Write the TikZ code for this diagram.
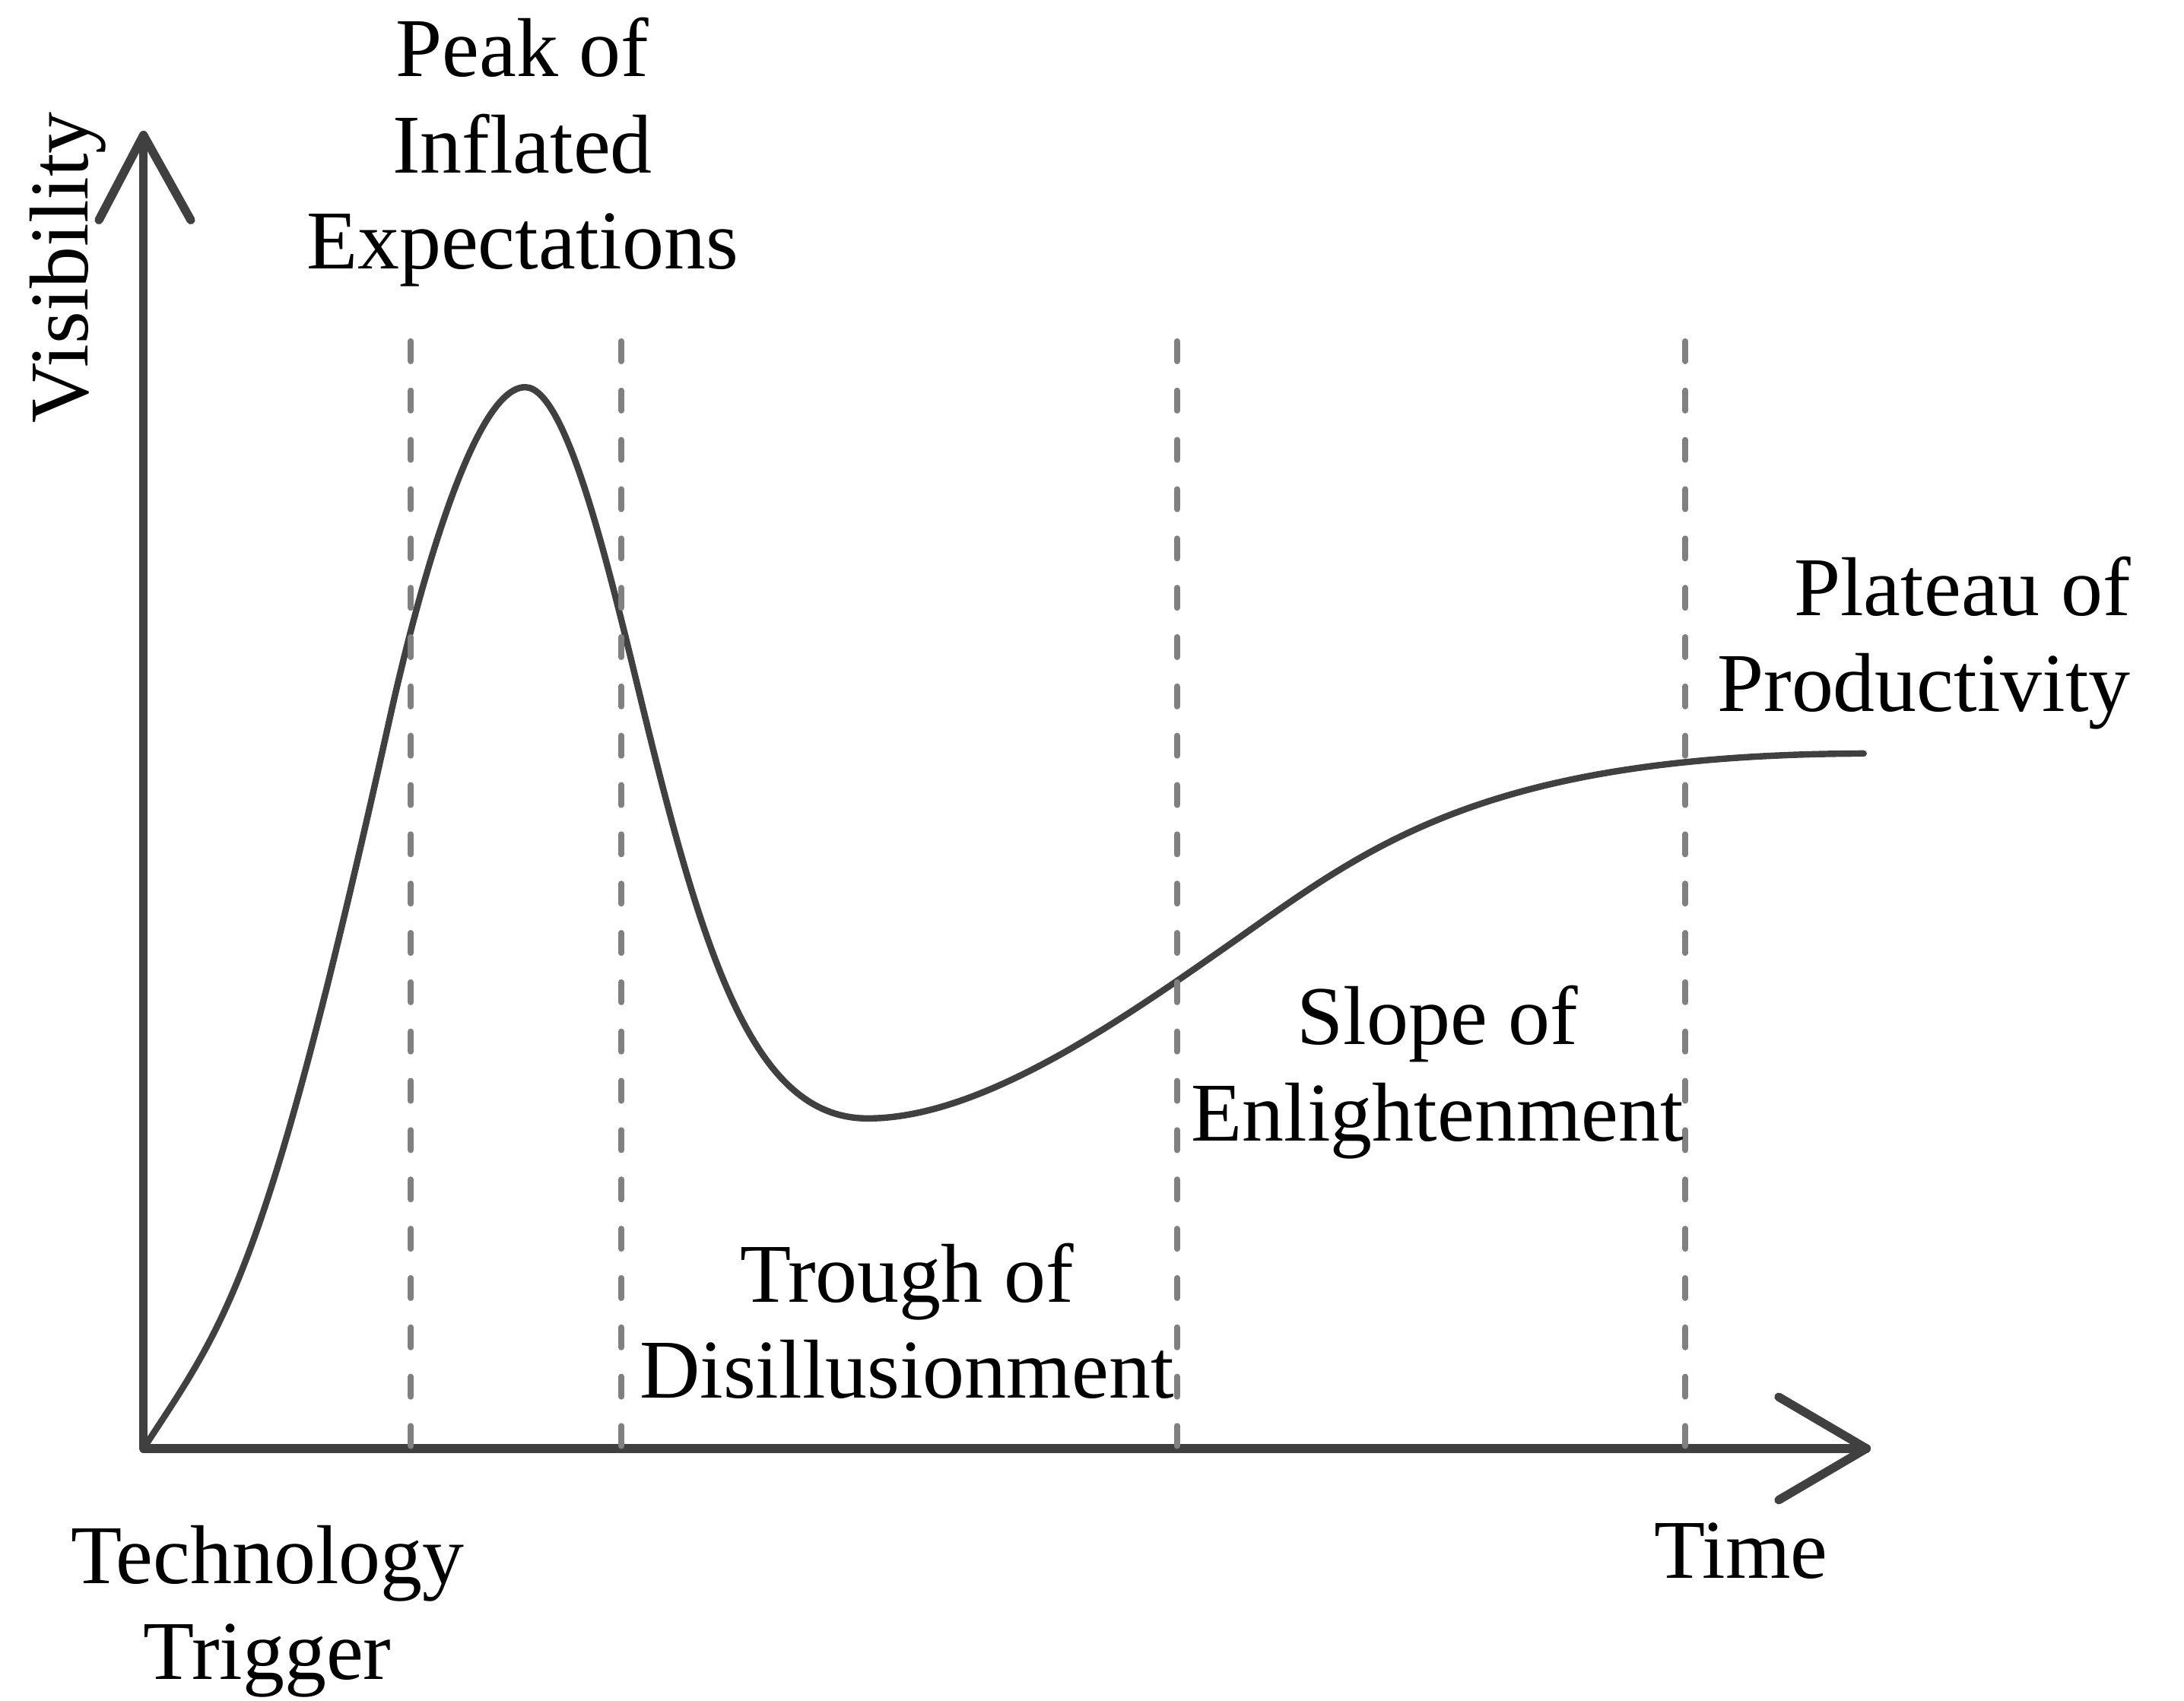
\documentclass[tikz,border=0pt]{standalone}
\usepackage{fontspec}
\setmainfont{Liberation Serif}
\definecolor{axisgray}{HTML}{404040}
\definecolor{guidegray}{HTML}{808080}
\begin{document}
\begin{tikzpicture}[x=0.5pt,y=-0.5pt,
  axis/.style={line width=3.1pt, draw=axisgray, line cap=round, line join=round},
  guide/.style={line width=2.1pt, draw=guidegray, line cap=round, dash pattern=on 7.2pt off 10.5pt},
  hype/.style={line width=2.3pt, draw=axisgray, line cap=round, line join=round},
  lbl/.style={font=\fontsize{30}{34.5}\selectfont, inner sep=0pt, text=black}]
\useasboundingbox (0,0) rectangle (1568,1221);
% axes
\coordinate (O) at (103,1040);
\coordinate (ytip) at (103,97);
\coordinate (xtip) at (1340,1040);
\coordinate (yl) at (71,158);
\coordinate (yr) at (137,158);
\coordinate (xu) at (1277,1003);
\coordinate (xd) at (1277,1077);
\draw[axis] (O) -- (ytip);
\draw[axis] (O) -- (xtip);
\draw[axis] (yl) -- (ytip) -- (yr);
\draw[axis] (xu) -- (xtip) -- (xd);
% hype curve
\coordinate (m1) at (280,515);
\coordinate (pk) at (377,278);
\coordinate (m2) at (462,510);
\coordinate (tr) at (623,803);
\coordinate (m3) at (880,680);
\coordinate (pl) at (1338,541);
\draw[hype] (O) .. controls (163,948) and (190,920) .. (m1)
  .. controls (300,425) and (340,278) .. (pk)
  .. controls (407,278) and (437,407.5) .. (m2)
  .. controls (507,694.5) and (543,803) .. (tr)
  .. controls (703,803) and (800,736) .. (m3)
  .. controls (980,610) and (1060,542) .. (pl);
% guides
\foreach \gx/\nm in {295/g1,446/g2,845/g3,1210/g4}{
  \coordinate (\nm top) at (\gx,245);
  \coordinate (\nm bot) at (\gx,1040);
  \draw[guide] (\nm top) -- (\nm bot);
}
% labels
\node[lbl, rotate=90, anchor=base] (vis) at (63,192) {Visibility};
\node[lbl, anchor=base] (peak) at (375,55) {\begin{tabular}[t]{@{}c@{}}Peak of\\Inflated\\Expectations\end{tabular}};
\node[lbl, anchor=base east] (plateau) at (1530,442) {\begin{tabular}[t]{@{}r@{}}Plateau of\\Productivity\end{tabular}};
\node[lbl, anchor=base] (slope) at (1032,750) {\begin{tabular}[t]{@{}c@{}}Slope of\\Enlightenment\end{tabular}};
\node[lbl, anchor=base] (trough) at (651,935) {\begin{tabular}[t]{@{}c@{}}Trough of\\Disillusionment\end{tabular}};
\node[lbl, anchor=base] (trigger) at (192,1137) {\begin{tabular}[t]{@{}c@{}}Technology\\Trigger\end{tabular}};
\node[lbl, anchor=base] (time) at (1250,1133) {Time};
\end{tikzpicture}
\end{document}
